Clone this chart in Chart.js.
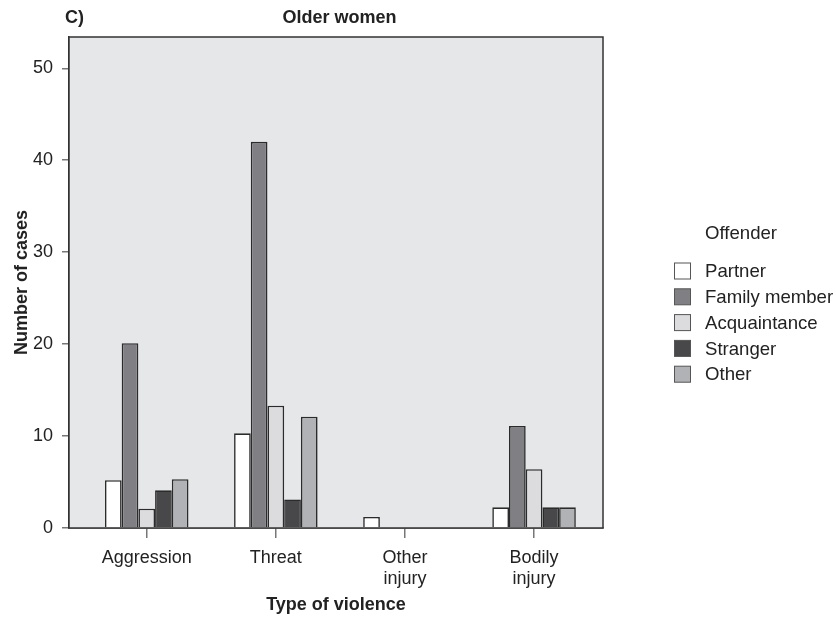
<!DOCTYPE html>
<html>
<head>
<meta charset="utf-8">
<script src="https://cdn.jsdelivr.net/npm/chart.js@4"></script>
<style>
html,body{margin:0;padding:0;background:#fff;}
#wrap{width:836px;height:618px;}
</style>
</head>
<body>
<div id="wrap"><canvas id="c" width="836" height="618"></canvas></div>
<script>
const categories = [["Aggression"], ["Threat"], ["Other", "injury"], ["Bodily", "injury"]];
const seriesNames = ["Partner", "Family member", "Acquaintance", "Stranger", "Other"];
const partner = [5.2, 10.3, 1.2, 2.25];
const familyMember = [20.1, 42, 0, 11.1];
const acquaintance = [2.1, 13.3, 0, 6.4];
const stranger = [4.1, 3.1, 0, 2.25];
const other = [5.3, 12.1, 0, 2.25];
const yTicks = [0, 10, 20, 30, 40, 50];
const seriesColors = ["#ffffff", "#808084", "#dcdcdf", "#48484b", "#b1b2b5"];

const seriesValues = [partner, familyMember, acquaintance, stranger, other];
const FONT = "'Liberation Sans', Arial, Helvetica, sans-serif";
const FS = 18;

const datasets = seriesValues.map((vals, i) => ({
  label: seriesNames[i],
  data: vals.map((v, j) => ({x: j, y: v})),
  backgroundColor: seriesColors[i],
  borderColor: "#2b2b2b",
  borderWidth: (ctx) => (ctx.raw && ctx.raw.y === 0 ? 0 : 1.6),
  borderSkipped: 'bottom',
  categoryPercentage: 0.647,
  barPercentage: 1.0
}));

const framePlugin = {
  id: 'frame',
  beforeDatasetsDraw(chart) {
    const {ctx, chartArea: a} = chart;
    ctx.save();
    ctx.fillStyle = '#e6e7e9';
    ctx.fillRect(a.left, a.top, a.right - a.left, a.bottom - a.top);
    ctx.restore();
  },
  afterDraw(chart) {
    const {ctx, chartArea: a} = chart;
    ctx.save();
    ctx.strokeStyle = '#333';
    ctx.lineWidth = 1.5;
    ctx.strokeRect(a.left, a.top, a.right - a.left, a.bottom - a.top);
    // panel label and title
    ctx.fillStyle = '#222';
    ctx.font = "bold " + FS + "px " + FONT;
    ctx.textBaseline = 'middle';
    ctx.textAlign = 'left';
    ctx.fillText('C)', 65, 18);
    ctx.textAlign = 'center';
    ctx.fillText('Older women', 339.5, 18);
    // legend
    ctx.font = "18.6px " + FONT;
    ctx.textAlign = 'left';
    ctx.fillText('Offender', 705, 234);
    chart.data.datasets.forEach((ds, i) => {
      const y = 271 + i * 25.8;
      ctx.fillStyle = ds.backgroundColor;
      ctx.fillRect(674.5, y - 8, 16, 16);
      ctx.strokeStyle = '#555';
      ctx.lineWidth = 1;
      ctx.strokeRect(674.5, y - 8, 16, 16);
      ctx.fillStyle = '#222';
      ctx.fillText(ds.label, 705, y + 1);
    });
    ctx.restore();
  }
};

new Chart(document.getElementById('c'), {
  type: 'bar',
  data: {datasets},
  plugins: [framePlugin],
  options: {
    responsive: false,
    animation: false,
    layout: {padding: {top: 37, right: 233, left: 0, bottom: 0}},
    plugins: {legend: {display: false}, tooltip: {enabled: false}, title: {display: false}},
    scales: {
      x: {
        type: 'linear',
        offset: false,
        min: -0.602,
        max: 3.534,
        afterBuildTicks: (axis) => { axis.ticks = categories.map((c, i) => ({value: i})); },
        afterFit: (axis) => { axis.height = 90; },
        ticks: {
          callback: (v) => categories[v],
          color: '#222',
          font: {family: FONT, size: FS},
          padding: 9,
          maxRotation: 0,
          autoSkip: false
        },
        grid: {offset: false, drawOnChartArea: false, drawTicks: true, tickLength: 10, color: '#777', lineWidth: 1.5},
        border: {display: true, color: '#333', width: 1.5},
        title: {display: true, text: 'Type of violence', color: '#222', font: {family: FONT, size: FS, weight: 'bold'}, padding: {top: 0, bottom: 2}}
      },
      y: {
        type: 'linear',
        min: 0,
        max: 53.4,
        afterBuildTicks: (axis) => { axis.ticks = yTicks.map(v => ({value: v})); },
        afterFit: (axis) => { axis.width = 69; },
        ticks: {color: '#222', font: {family: FONT, size: FS}, padding: 9},
        grid: {drawOnChartArea: false, drawTicks: true, tickLength: 7, color: '#777', lineWidth: 1.5},
        border: {display: true, color: '#333', width: 1.5},
        title: {display: true, text: 'Number of cases', color: '#222', font: {family: FONT, size: FS, weight: 'bold'}, padding: {top: 11, bottom: 0}}
      }
    }
  }
});
</script>
</body>
</html>
